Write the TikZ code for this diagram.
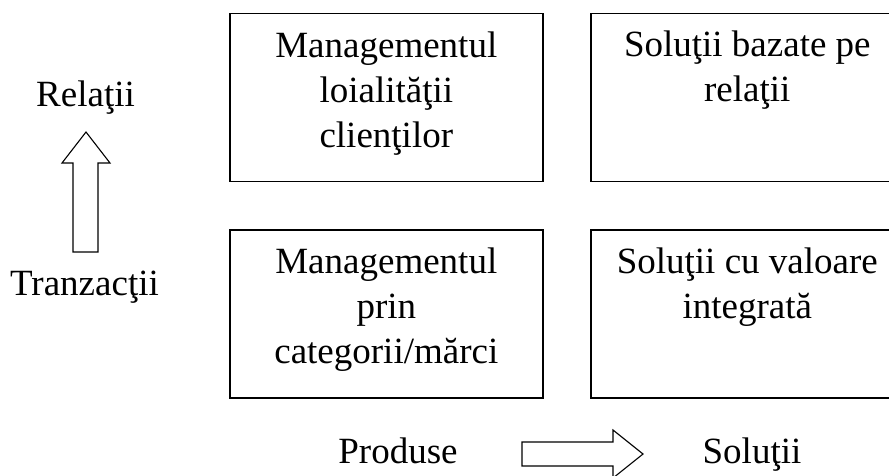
\documentclass[tikz,border=0pt]{standalone}
\usepackage{fontspec}
\setmainfont{Liberation Serif}
\usetikzlibrary{calc}
\begin{document}
\begin{tikzpicture}[x=1pt,y=-1pt,
  cell/.style={draw=black,line width=1.6pt,minimum width=313pt,minimum height=168pt,inner sep=0pt,anchor=north west},
  celltext/.style={align=center,anchor=base,inner sep=0pt,font=\fontsize{37}{45}\selectfont},
  axislabel/.style={anchor=base,inner sep=0pt,font=\fontsize{37}{45}\selectfont},
  blockarrow/.style={draw=black,line width=1.1pt,fill=white,line join=miter}]
\clip (0,0) rectangle (889,475);
\fill[white] (0,0) rectangle (889,475);

% four quadrants
\node[cell] (tl) at (229,12.5) {};
\node[cell] (tr) at (590,12.5) {};
\node[cell] (bl) at (229,229) {};
\node[cell] (br) at (590,229) {};

% cell texts, placed by the baseline of their last line
\node[celltext] (tltext) at ($(tl.north)+(0,134.5)$) {Managementul\\loialităţii\\clienţilor};
\node[celltext] (trtext) at ($(tr.north)+(0,88.5)$) {Soluţii bazate pe\\relaţii};
\node[celltext] (bltext) at ($(bl.north)+(0,134)$) {Managementul\\prin\\categorii/mărci};
\node[celltext] (brtext) at ($(br.north)+(0,89)$) {Soluţii cu valoare\\integrată};

% vertical axis
\node[axislabel] (rel) at (85.5,106) {Relaţii};
\node[axislabel] (tranz) at (84.5,295) {Tranzacţii};
\draw[blockarrow] (73,252) -- (73,163) -- (62,163) -- (86,132) -- (110,163) -- (98,163) -- (98,252) -- cycle;

% horizontal axis
\node[axislabel] (prod) at (398,463) {Produse};
\node[axislabel] (sol) at (752,463) {Soluţii};
\draw[blockarrow] (522,442) -- (613,442) -- (613,430) -- (643,454) -- (613,478) -- (613,466) -- (522,466) -- cycle;
\end{tikzpicture}
\end{document}
